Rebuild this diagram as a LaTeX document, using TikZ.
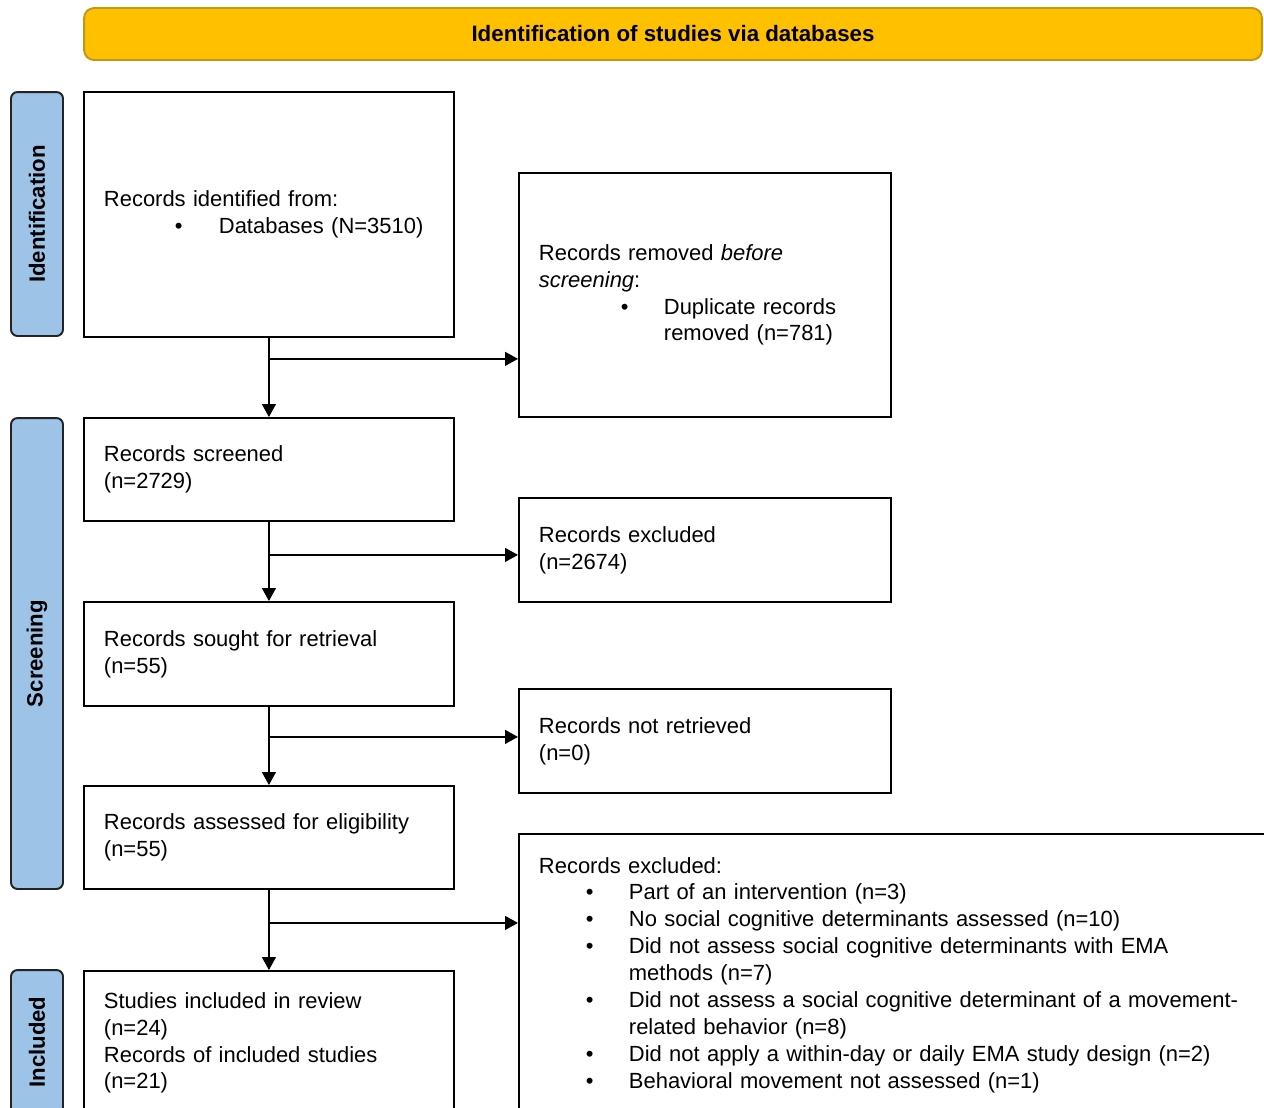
\documentclass[tikz,border=0pt]{standalone}
\usepackage{fontspec}
\setmainfont{Liberation Sans}
\usetikzlibrary{positioning,arrows.meta}
\definecolor{ambar}{RGB}{255,192,0}
\definecolor{ambaroscuro}{RGB}{196,150,20}
\definecolor{celeste}{RGB}{157,195,230}
\definecolor{bordefase}{RGB}{35,35,35}
\newcommand{\vineta}[2]{\hspace*{#1}\makebox[#2][l]{\textbullet}}

\begin{document}
\begin{tikzpicture}[x=0.02cm, y=-0.02cm,
  caja/.style={draw=black, line width=1.1pt, anchor=north west, align=left,
               inner xsep=0.4cm, inner ysep=0pt,
               font=\fontsize{12.5}{15.3}\selectfont},
  fase/.style={draw=bordefase, line width=1.1pt, fill=celeste,
               rounded corners=0.13cm, rotate=90, minimum height=1.04cm,
               inner sep=0pt, font=\fontsize{12.6}{15.3}\selectfont\bfseries},
  banda/.style={draw=ambaroscuro, line width=1.1pt, fill=ambar,
                rounded corners=0.2cm, minimum width=23.56cm,
                minimum height=1.04cm,
                font=\fontsize{12.7}{15.3}\selectfont\bfseries},
  flecha/.style={-{Triangle[length=0.26cm,width=0.28cm]}, line width=0.7pt}]
  \useasboundingbox (0,0) rectangle (1264,1107);
  \clip (0,0) rectangle (1264,1107);
  % Titulo y fases
  \node[banda] (titulo) at (673,34) {Identification of studies via databases};
  \node[fase, minimum width=4.88cm] (fid) at (37,214) {Identification};
  \node[fase, minimum width=9.42cm] (fscr) at (37,653.5) {Screening};
  \node[fase, minimum width=2.88cm] (finc) at (37,1042) {Included};
  % Columna izquierda
  \node[caja, text width=6.6cm, minimum height=4.9cm] (id) at (83,91)
       {Records identified from:\\
        \vineta{1.42cm}{0.88cm}Databases (N=3510)};
  \node[caja, text width=6.6cm, minimum height=2.06cm] (scr) at (83,417)
       {Records screened\\(n=2729)};
  \node[caja, text width=6.6cm, minimum height=2.08cm] (ret) at (83,601)
       {Records sought for retrieval\\(n=55)};
  \node[caja, text width=6.6cm, minimum height=2.06cm] (eleg) at (83,785)
       {Records assessed for eligibility\\(n=55)};
  \node[caja, text width=6.6cm, minimum height=2.88cm] (incl) at (83,970)
       {Studies included in review\\(n=24)\\
        Records of included studies\\(n=21)};
  % Columna derecha
  \node[caja, text width=6.64cm, minimum height=4.88cm] (dup) at (518,172)
       {Records removed \textit{before}\\\textit{screening}:\\
        \vineta{1.64cm}{0.86cm}Duplicate records\\
        \hspace*{2.5cm}removed (n=781)};
  \node[caja, text width=6.64cm, minimum height=2.08cm] (excl) at (518,497)
       {Records excluded\\(n=2674)};
  \node[caja, text width=6.64cm, minimum height=2.08cm] (noret) at (518,688)
       {Records not retrieved\\(n=0)};
  \node[caja, text width=14.6cm, minimum height=5.64cm] (razones) at (518,833)
       {Records excluded:\\
        \vineta{0.94cm}{0.86cm}Part of an intervention (n=3)\\
        \vineta{0.94cm}{0.86cm}No social cognitive determinants assessed (n=10)\\
        \vineta{0.94cm}{0.86cm}Did not assess social cognitive determinants with EMA\\
        \hspace*{1.8cm}methods (n=7)\\
        \vineta{0.94cm}{0.86cm}Did not assess a social cognitive determinant of a movement-\\
        \hspace*{1.8cm}related behavior (n=8)\\
        \vineta{0.94cm}{0.86cm}Did not apply a within-day or daily EMA study design (n=2)\\
        \vineta{0.94cm}{0.86cm}Behavioral movement not assessed (n=1)};
  % Flechas
  \path (id.south) ++(0,21) coordinate (c1);
  \path (scr.south) ++(0,33) coordinate (c2);
  \path (ret.south) ++(0,30) coordinate (c3);
  \path (eleg.south) ++(0,33) coordinate (c4);
  \draw[flecha] (id.south) -- (scr.north);
  \draw[flecha] (scr.south) -- (ret.north);
  \draw[flecha] (ret.south) -- (eleg.north);
  \draw[flecha] (eleg.south) -- (incl.north);
  \draw[flecha] (c1) -- (c1 -| dup.west);
  \draw[flecha] (c2) -- (c2 -| excl.west);
  \draw[flecha] (c3) -- (c3 -| noret.west);
  \draw[flecha] (c4) -- (c4 -| razones.west);
\end{tikzpicture}
\end{document}
